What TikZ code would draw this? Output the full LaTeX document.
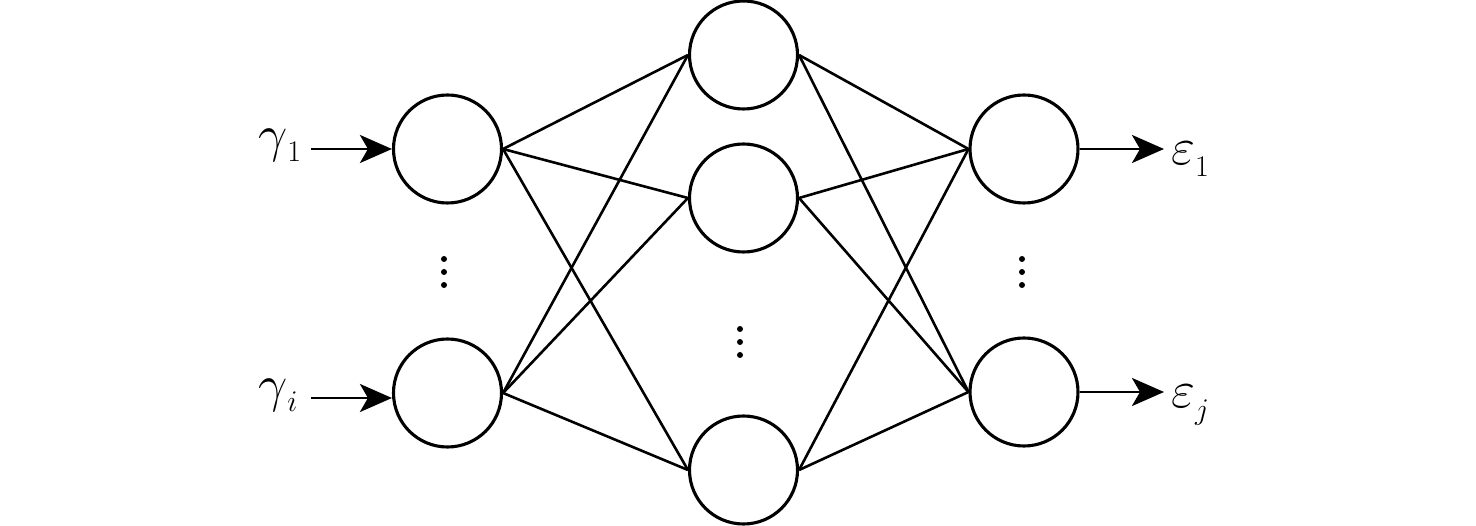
\RequirePackage{fix-cm}
\documentclass[tikz,border=0pt]{standalone}
\usetikzlibrary{arrows.meta}
\newcommand{\mainsz}{\fontsize{52}{54}\selectfont}
\newcommand{\subx}[2][-10pt]{\raisebox{#1}{\fontsize{30}{32}\selectfont #2}}
\begin{document}
\begin{tikzpicture}[x=1pt,y=-1pt,
  neuron/.style={draw,circle,line width=3.1pt,minimum size=108pt,inner sep=0pt},
  link/.style={line width=2.6pt},
  io/.style={line width=2.8pt,-{Stealth[length=32pt,width=28pt,inset=8pt]}},
  lab/.style={font=\mainsz,inner sep=0pt,anchor=base west},
  dotc/.style={fill,circle,minimum size=6pt,inner sep=0pt}]
\useasboundingbox (0,0) rectangle (1476,526);
\node[neuron] (i1) at (447.5,149) {};
\node[neuron] (i2) at (447.5,393) {};
\node[neuron] (h1) at (743.5,55) {};
\node[neuron] (h2) at (743.5,198) {};
\node[neuron] (h3) at (743.5,470) {};
\node[neuron] (o1) at (1024,149) {};
\node[neuron] (o2) at (1024,392) {};
\foreach \a in {i1,i2}{\foreach \b in {h1,h2,h3}{\draw[link] (\a.east) -- (\b.west);}}
\foreach \a in {h1,h2,h3}{\foreach \b in {o1,o2}{\draw[link] (\a.east) -- (\b.west);}}
\node[lab] (g1) at (258,152) {$\gamma$\subx{1}};
\node[lab] (gi) at (258,402) {$\gamma$\subx{$i$}};
\coordinate (g1s) at (311,149);
\coordinate (gis) at (311,398);
\draw[io] (g1s) -- (i1.west);
\draw[io] (gis) -- (i2.west |- gis);
\coordinate (e1e) at (1164,149);
\coordinate (eje) at (1164,392);
\draw[io] (o1.east) -- (e1e);
\draw[io] (o2.east) -- (eje);
\node[lab] (e1) at (1171,165) {$\varepsilon$\subx[-12pt]{1}};
\node[lab] (ej) at (1171,408) {$\varepsilon$\subx[-12pt]{$j$}};
\foreach \y [count=\k] in {259,272,285}{
  \node[dotc] (dl\k) at (444,\y) {};
  \node[dotc] (dr\k) at (1022,\y) {};
}
\foreach \y [count=\k] in {329,342,355}{
  \node[dotc] (dm\k) at (740,\y) {};
}
\end{tikzpicture}
\end{document}
